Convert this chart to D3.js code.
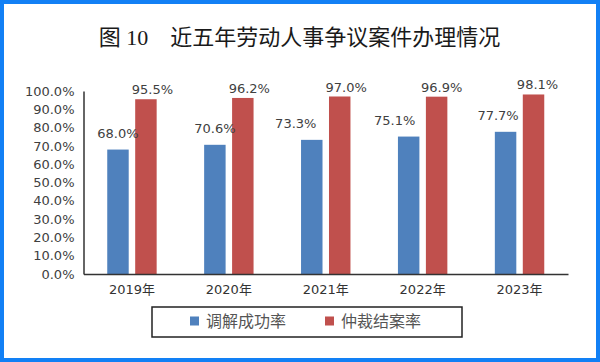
<!DOCTYPE html>
<html>
<head>
<meta charset="utf-8">
<script src="https://cdn.jsdelivr.net/npm/d3@7/dist/d3.min.js"></script>
<style>
	html, body { margin: 0; padding: 0; background: #fff; }
	svg { display: block; }
</style>
</head>
<body>
<div id="chart"></div>
<script>
// data
const years		= ["2019年", "2020年", "2021年", "2022年", "2023年"];
const series	= ["调解成功率", "仲裁结案率"];
const mediation	= [68.0, 70.6, 73.3, 75.1, 77.7];
const arbitration	= [95.5, 96.2, 97.0, 96.9, 98.1];
const yTicks	= [0, 10, 20, 30, 40, 50, 60, 70, 80, 90, 100];

// layout (labels were nudged by hand in the original)
const labelDx	= [[0, 6.5], [0, 6.5], [-16, 6.5], [-14, 5], [-7.5, 4]];
const palette	= { "调解成功率": "#4F81BD", "仲裁结案率": "#C0504D" };

let W = 600, H = 362;
let margin = { top: 91, right: 32, bottom: 88, left: 83.5 };
let width = W - margin.left - margin.right;
let height = H - margin.top - margin.bottom;

let rows = years.map((y, i) => ({ year: y, i: i, values: [mediation[i], arbitration[i]] }));

let svg = d3.select("#chart").append("svg")
	.attr("width", W)
	.attr("height", H);

// outer blue frame
svg.append("rect")
	.attr("x", 2).attr("y", 2)
	.attr("width", W - 4).attr("height", H - 4)
	.attr("fill", "#fff")
	.attr("stroke", "#1280f5")
	.attr("stroke-width", 4);

svg.append("text")
	.attr("x", 299.5).attr("y", 45)
	.attr("text-anchor", "middle")
	.attr("font-family", "'Liberation Serif', 'Noto Sans CJK SC', serif")
	.attr("font-size", 22)
	.attr("fill", "#1a1a1a")
	.text("图 10　近五年劳动人事争议案件办理情况");

let g = svg.append("g").attr("transform", "translate(" + margin.left + "," + margin.top + ")");

let x0 = d3.scaleBand().domain(years).range([0, width]).paddingInner(0.49).paddingOuter(0.245);
let x1 = d3.scaleBand().domain(series).range([0, x0.bandwidth()]).paddingInner(0.232);
let y = d3.scaleLinear().domain([0, 100]).range([height, 0]);

// y axis
let yAxis = g.append("g")
	.call(d3.axisLeft(y).tickValues(yTicks).tickSize(0).tickPadding(9).tickFormat((d) => d.toFixed(1) + "%"));
yAxis.select(".domain").attr("stroke", "#333").attr("stroke-width", 1.5);
yAxis.selectAll(".tick text")
	.attr("font-family", "'DejaVu Sans', sans-serif")
	.attr("font-size", 13)
	.attr("fill", "#404040");

// bars
let groups = g.selectAll(".yr").data(rows).enter().append("g")
	.attr("class", "yr")
	.attr("transform", (d) => "translate(" + x0(d.year) + ",0)");

groups.selectAll("rect").data((d) => d.values.map((v, k) => ({ s: series[k], v: v, i: d.i, k: k })))
	.enter().append("rect")
	.attr("x", (o) => x1(o.s))
	.attr("y", (o) => y(o.v))
	.attr("width", x1.bandwidth())
	.attr("height", (o) => height - y(o.v))
	.attr("fill", (o) => palette[o.s]);

groups.selectAll("text.val").data((d) => d.values.map((v, k) => ({ s: series[k], v: v, i: d.i, k: k })))
	.enter().append("text")
	.attr("class", "val")
	.attr("x", (o) => x1(o.s) + x1.bandwidth() / 2 + labelDx[o.i][o.k])
	.attr("y", (o) => y(o.v) - (o.k === 0 ? 12 : 5))
	.attr("text-anchor", "middle")
	.attr("font-family", "'DejaVu Sans', sans-serif")
	.attr("font-size", 13)
	.attr("fill", "#404040")
	.text((o) => o.v.toFixed(1) + "%");

// x axis
let xAxis = g.append("g")
	.attr("transform", "translate(0," + height + ")")
	.call(d3.axisBottom(x0).tickSize(0).tickPadding(11).tickSizeOuter(0));
xAxis.select(".domain").attr("stroke", "#333").attr("stroke-width", 1.5);
xAxis.selectAll(".tick text")
	.attr("font-family", "'DejaVu Sans', 'Noto Sans CJK SC', sans-serif")
	.attr("font-size", 13)
	.attr("fill", "#333");

// legend
let legend = svg.append("g");
legend.append("rect")
	.attr("x", 152).attr("y", 307)
	.attr("width", 310).attr("height", 30)
	.attr("fill", "#fff")
	.attr("stroke", "#222")
	.attr("stroke-width", 1.5);

let legendX = [190, 325];
series.forEach((s, k) => {
	legend.append("rect")
		.attr("x", legendX[k]).attr("y", 316.5)
		.attr("width", 9).attr("height", 9)
		.attr("fill", palette[s]);
	legend.append("text")
		.attr("x", legendX[k] + 16).attr("y", 327)
		.attr("font-family", "'Noto Sans CJK SC', sans-serif")
		.attr("font-size", 16)
		.attr("fill", "#555")
		.text(s);
});
</script>
</body>
</html>
